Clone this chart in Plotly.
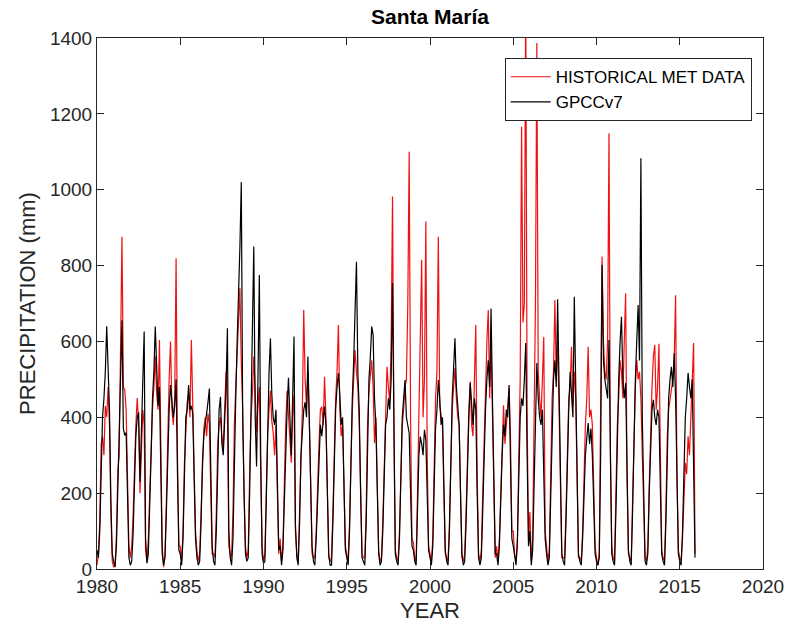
import plotly.graph_objects as go

start_year = 1980
months_per_year = 12

# Monthly precipitation (mm), Jan..Dec for each year 1980-2015
hist_met_mm = [
    10, 40, 130, 330, 350, 300, 430, 400, 480, 380, 150, 20,      # 1980
    5, 10, 90, 260, 300, 550, 876, 480, 472, 420, 250, 60,        # 1981
    30, 60, 140, 280, 380, 451, 380, 200, 300, 420, 380, 50,      # 1982
    20, 80, 200, 330, 420, 480, 560, 460, 420, 604, 350, 60,      # 1983
    5, 40, 180, 350, 500, 600, 420, 380, 450, 819, 300, 60,       # 1984
    60, 20, 100, 280, 380, 440, 460, 400, 604, 430, 250, 100,     # 1985
    50, 20, 40, 150, 300, 370, 400, 350, 410, 380, 200, 40,       # 1986
    40, 30, 150, 330, 380, 400, 350, 320, 420, 520, 420, 60,      # 1987
    40, 30, 150, 380, 480, 560, 620, 740, 540, 420, 200, 60,      # 1988
    30, 50, 250, 400, 460, 560, 472, 360, 430, 480, 250, 60,      # 1989
    20, 40, 200, 360, 420, 470, 390, 360, 300, 380, 200, 40,      # 1990
    80, 20, 60, 230, 380, 470, 400, 330, 280, 400, 460, 100,      # 1991
    40, 20, 150, 330, 420, 683, 500, 430, 520, 400, 180, 40,      # 1992
    30, 30, 100, 250, 330, 420, 428, 380, 507, 400, 220, 30,      # 1993
    20, 30, 150, 320, 450, 520, 643, 420, 350, 380, 220, 60,      # 1994
    40, 20, 120, 280, 420, 500, 577, 520, 480, 380, 180, 40,      # 1995
    30, 30, 150, 380, 470, 520, 550, 480, 332, 400, 200, 50,      # 1996
    20, 30, 130, 280, 420, 533, 480, 440, 600, 982, 350, 50,      # 1997
    30, 20, 100, 280, 380, 420, 480, 500, 700, 1100, 400, 80,     # 1998
    70, 30, 20, 200, 400, 520, 815, 400, 500, 916, 300, 60,       # 1999
    40, 20, 80, 300, 450, 520, 876, 430, 400, 380, 200, 40,       # 2000
    30, 20, 120, 320, 420, 480, 530, 450, 400, 380, 180, 30,      # 2001
    20, 40, 150, 330, 420, 494, 380, 350, 500, 643, 250, 40,      # 2002
    20, 50, 200, 350, 480, 600, 683, 450, 600, 420, 180, 30,      # 2003
    60, 20, 80, 220, 350, 432, 330, 380, 420, 478, 350, 100,      # 2004
    100, 40, 20, 60, 300, 500, 1166, 650, 700, 1520, 400, 80,     # 2005
    150, 20, 80, 350, 700, 1387, 520, 450, 400, 500, 612, 100,    # 2006
    60, 20, 50, 250, 450, 520, 709, 500, 600, 420, 180, 30,       # 2007
    30, 30, 150, 330, 450, 480, 586, 430, 520, 450, 180, 30,      # 2008
    30, 20, 100, 250, 380, 450, 586, 400, 420, 380, 180, 60,      # 2009
    30, 10, 40, 350, 824, 600, 520, 500, 600, 1149, 300, 60,      # 2010
    30, 20, 180, 380, 450, 550, 520, 450, 600, 727, 250, 40,      # 2011
    30, 20, 180, 380, 480, 551, 500, 520, 450, 300, 120, 30,      # 2012
    20, 60, 220, 380, 480, 560, 591, 420, 480, 594, 250, 50,      # 2013
    30, 20, 150, 350, 420, 450, 480, 500, 550, 722, 250, 50,      # 2014
    30, 20, 80, 200, 280, 250, 350, 300, 420, 500, 596, 40,       # 2015
]

gpcc_v7_mm = [
    50, 30, 100, 260, 400, 450, 520, 640, 500, 420, 180, 40,      # 1980
    20, 5, 60, 200, 350, 480, 656, 370, 352, 360, 150, 30,        # 1981
    10, 20, 90, 220, 350, 400, 413, 230, 350, 480, 626, 80,       # 1982
    15, 40, 150, 300, 450, 520, 639, 500, 430, 480, 300, 40,      # 1983
    10, 30, 150, 320, 420, 485, 450, 400, 430, 500, 250, 50,      # 1984
    40, 10, 80, 250, 400, 420, 485, 420, 430, 410, 200, 80,       # 1985
    30, 10, 20, 120, 280, 350, 380, 420, 440, 476, 250, 60,       # 1986
    20, 10, 100, 300, 420, 454, 330, 300, 380, 480, 635, 100,     # 1987
    30, 10, 80, 300, 450, 600, 700, 850, 1020, 400, 200, 40,      # 1988
    20, 30, 200, 450, 600, 850, 400, 270, 500, 775, 300, 40,      # 1989
    15, 20, 180, 400, 520, 608, 460, 400, 380, 420, 250, 50,      # 1990
    60, 10, 50, 200, 350, 420, 504, 380, 300, 450, 613, 120,      # 1991
    30, 10, 120, 300, 380, 420, 440, 400, 560, 380, 200, 60,      # 1992
    20, 10, 80, 200, 300, 380, 350, 400, 428, 380, 200, 40,       # 1993
    10, 10, 120, 300, 420, 480, 516, 460, 380, 400, 250, 50,      # 1994
    30, 10, 100, 300, 450, 550, 700, 810, 520, 420, 200, 30,      # 1995
    20, 10, 120, 350, 500, 560, 639, 618, 450, 380, 200, 40,      # 1996
    10, 20, 100, 250, 380, 400, 450, 420, 500, 754, 300, 40,      # 1997
    20, 10, 80, 250, 400, 450, 498, 400, 380, 358, 200, 60,       # 1998
    50, 20, 10, 150, 300, 349, 330, 300, 367, 340, 200, 50,       # 1999
    30, 10, 60, 250, 372, 420, 498, 450, 380, 400, 200, 50,       # 2000
    20, 10, 100, 300, 450, 530, 608, 481, 430, 380, 200, 40,      # 2001
    10, 20, 120, 300, 400, 490, 420, 380, 450, 420, 200, 30,      # 2002
    10, 30, 150, 300, 420, 500, 550, 480, 687, 450, 200, 40,      # 2003
    40, 10, 60, 200, 300, 380, 350, 420, 400, 485, 300, 80,       # 2004
    60, 30, 10, 80, 250, 400, 450, 430, 500, 596, 300, 60,        # 2005
    100, 10, 50, 250, 400, 543, 450, 400, 380, 420, 250, 80,      # 2006
    40, 10, 30, 200, 400, 500, 550, 480, 711, 450, 200, 40,       # 2007
    20, 10, 120, 300, 420, 520, 450, 400, 718, 500, 200, 40,      # 2008
    20, 10, 80, 200, 300, 345, 385, 330, 370, 300, 150, 40,       # 2009
    20, 10, 30, 300, 802, 550, 500, 480, 450, 604, 250, 40,       # 2010
    20, 10, 150, 350, 500, 600, 665, 500, 450, 490, 300, 50,      # 2011
    20, 10, 150, 350, 500, 600, 696, 550, 1083, 400, 150, 20,     # 2012
    10, 40, 200, 350, 420, 446, 400, 380, 420, 400, 200, 40,      # 2013
    20, 10, 120, 320, 450, 500, 533, 480, 569, 450, 200, 40,      # 2014
    20, 10, 100, 250, 400, 450, 517, 480, 450, 500, 200, 30,      # 2015
]

x_tick_vals = [1980, 1985, 1990, 1995, 2000, 2005, 2010, 2015, 2020]
y_tick_vals = [0, 200, 400, 600, 800, 1000, 1200, 1400]

# time axis as decimal years (one point per month)
time_years = [start_year + i / months_per_year for i in range(len(hist_met_mm))]

axis_col = "#262626"
font_fam = "Liberation Sans, Arial, sans-serif"

fig = go.Figure()
fig.add_trace(go.Scatter(x=time_years, y=hist_met_mm, mode="lines",
                         name="HISTORICAL MET DATA",
                         line=dict(color="#f01010", width=1.2)))
fig.add_trace(go.Scatter(x=time_years, y=gpcc_v7_mm, mode="lines",
                         name="GPCCv7",
                         line=dict(color="#000000", width=1.2)))

fig.update_layout(
    width=796, height=632,
    margin=dict(l=97, r=25, t=38, b=63),
    paper_bgcolor="white", plot_bgcolor="white",
    font=dict(family=font_fam, color=axis_col, size=19),
    title=dict(text="<b>Santa María</b>", x=0.5, xref="paper",
               y=1 - 17 / 632, yref="container", yanchor="middle",
               font=dict(size=21, color="black", family=font_fam)),
    showlegend=True,
    legend=dict(x=0.983, y=0.962, xanchor="right", yanchor="top",
                bgcolor="white", bordercolor=axis_col, borderwidth=1,
                font=dict(size=17, color="black", family=font_fam),
                tracegroupgap=0, itemwidth=40),
)
fig.update_xaxes(range=[1980, 2020], tickvals=x_tick_vals,
                 ticks="inside", ticklen=7, tickcolor=axis_col,
                 showline=True, linecolor=axis_col, linewidth=1, mirror="ticks",
                 showgrid=False, zeroline=False,
                 title=dict(text="YEAR", font=dict(size=22, color=axis_col), standoff=6),
                 tickfont=dict(size=19, color=axis_col))
fig.update_yaxes(range=[0, 1400], tickvals=y_tick_vals,
                 ticks="inside", ticklen=7, tickcolor=axis_col,
                 showline=True, linecolor=axis_col, linewidth=1, mirror="ticks",
                 showgrid=False, zeroline=False,
                 title=dict(text="PRECIPITATION (mm)", font=dict(size=22, color=axis_col), standoff=8),
                 tickfont=dict(size=19, color=axis_col))

fig.write_html("out.html")
